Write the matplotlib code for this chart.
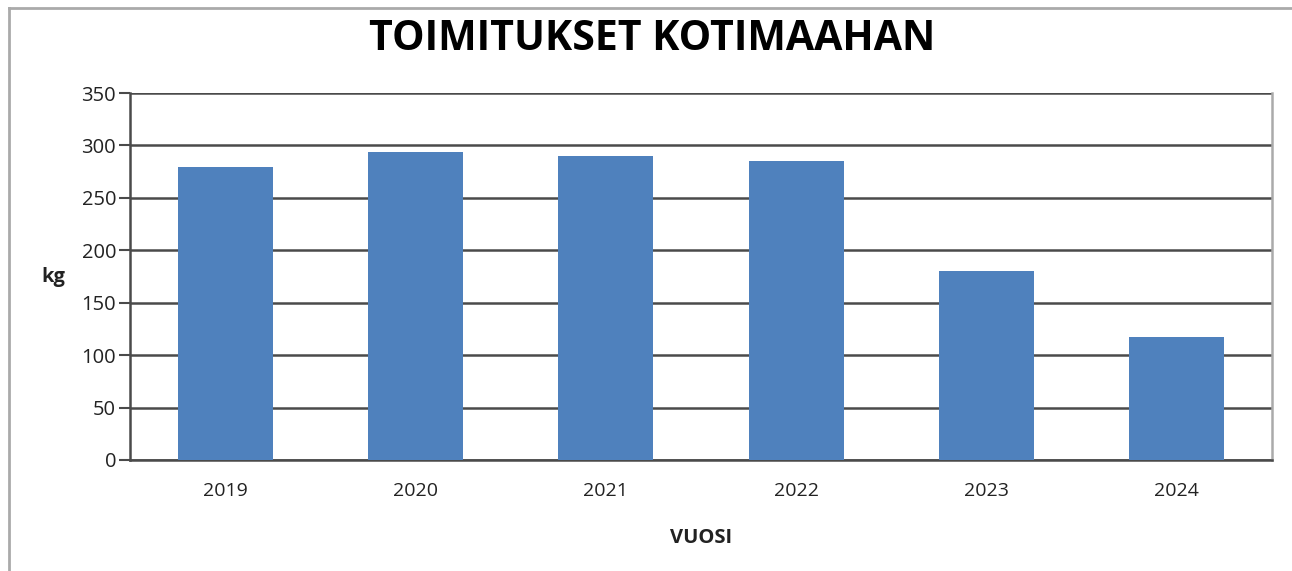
import matplotlib.pyplot as plt
from matplotlib.lines import Line2D

years = ['2019', '2020', '2021', '2022', '2023', '2024']
kg = [279, 294, 290, 285, 180, 117]

plt.rcParams['font.family'] = ['Open Sans', 'DejaVu Sans']

fig = plt.figure(figsize=(12.92, 5.71), dpi=100)
ax = fig.add_axes([0.1006, 0.1944, 0.8839, 0.6427])

x = range(len(years))
ax.bar(x, kg, width=0.5, color='#4F81BD', zorder=3)

ax.set_xlim(-0.5, len(years) - 0.5)
ax.set_ylim(0, 350)
ax.set_yticks(range(0, 351, 50))
ax.set_xticks(list(x))
ax.set_xticklabels(years)

ax.grid(axis='y', color='#4a4a4a', linewidth=1.8, zorder=0)
ax.tick_params(axis='y', length=8, width=1.5, color='#4a4a4a', labelsize=14.5,
               labelcolor='#222222', pad=2)
ax.tick_params(axis='x', length=0, labelsize=14, labelcolor='#222222', pad=16)

for side in ['left', 'bottom']:
    ax.spines[side].set_color('#4a4a4a')
    ax.spines[side].set_linewidth(1.8)
ax.spines['top'].set_visible(False)
ax.spines['right'].set_color('#aaaaaa')
ax.spines['right'].set_linewidth(1.8)

ax.set_ylabel('kg', fontsize=14.5, fontweight='bold', rotation=0, labelpad=20,
              va='center', color='#222222')
ax.set_xlabel('VUOSI', fontsize=14.5, fontweight='bold', labelpad=20, color='#222222')

fig.text(0.505, 0.931, 'TOIMITUKSET KOTIMAAHAN', ha='center', va='center',
         fontsize=29.5, fontweight='bold')

# kehys
fig.add_artist(Line2D([0.007, 1.0], [0.986, 0.986], color='#aaaaaa', linewidth=2))
fig.add_artist(Line2D([0.007, 0.007], [0.0, 0.986], color='#aaaaaa', linewidth=2))

fig.savefig('out.png', dpi=100)
